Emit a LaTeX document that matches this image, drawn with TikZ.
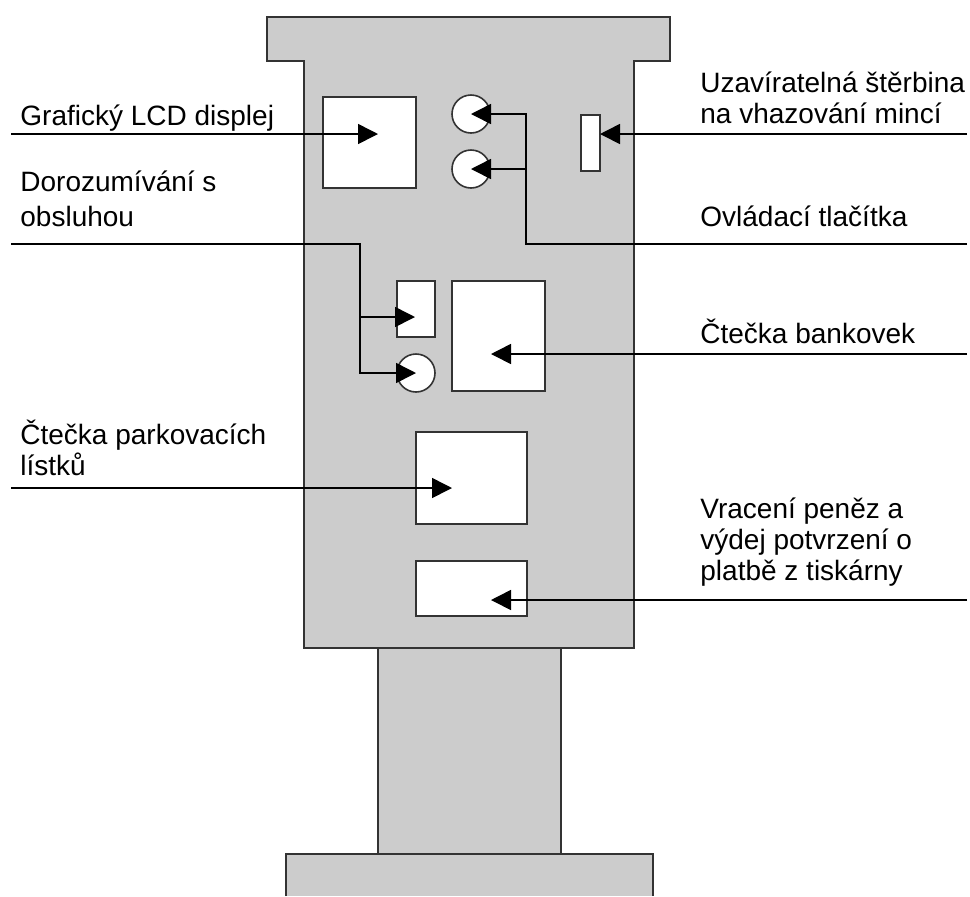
\documentclass[tikz,border=0pt]{standalone}
\usepackage{fontspec}
\setmainfont{Liberation Sans}
\usetikzlibrary{arrows.meta}

\begin{document}
\begin{tikzpicture}[
  x=0.5pt, y=-0.5pt,
  housing/.style={draw=black!80, fill=black!20, line width=0.8pt},
  part/.style={draw=black!80, fill=white, line width=0.8pt, inner sep=0pt},
  knob/.style={part, circle, minimum size=19pt},
  flow/.style={-{Triangle[length=10pt, width=10pt]}, line width=0.8pt},
  lab/.style={anchor=base west, align=left, inner sep=0pt,
              font=\fontsize{14}{15.5}\selectfont}
]
\useasboundingbox (0,0) rectangle (970,896);

\fill[black!20] (286,854) rectangle (653,896);
\draw[housing] (286,896) |- (653,854) -- (653,896);
\draw[housing] (378,648) rectangle (561,854);
\draw[housing] (267,17) -- (670,17) -- (670,61) -- (634,61) -- (634,648)
  -- (304,648) -- (304,61) -- (267,61) -- cycle;

\node[part, minimum width=46.5pt, minimum height=45.5pt] (lcd) at (369.5,142.5) {};
\node[knob] (btnup) at (471,114) {};
\node[knob] (btndown) at (471,169) {};
\node[part, minimum width=9.5pt, minimum height=28pt] (slot) at (590.5,143) {};
\node[part, minimum width=19pt, minimum height=28pt] (speaker) at (416,309) {};
\node[knob] (callbtn) at (416,373) {};
\node[part, minimum width=46.5pt, minimum height=55pt] (notes) at (498.5,336) {};
\node[part, minimum width=55.5pt, minimum height=46pt] (ticket) at (471.5,478) {};
\node[part, minimum width=55.5pt, minimum height=27.5pt] (printer) at (471.5,588.5) {};

\coordinate (lcdin) at (11,134);
\coordinate (lcdtip) at (378,134);
\coordinate (dorin) at (11,244);
\coordinate (dorfork) at (360,317);
\coordinate (speakertip) at (415,317);
\coordinate (ticketin) at (11,488);
\coordinate (tickettip) at (452,488);
\coordinate (slotin) at (967,134);
\coordinate (slottip) at (600,134);
\coordinate (btnin) at (967,244);
\coordinate (btnfork) at (526,169);
\coordinate (notesin) at (967,354);
\coordinate (notestip) at (491,354);
\coordinate (printin) at (967,600);
\coordinate (printtip) at (491,600);

\draw[flow] (lcdin) -- (lcdtip);
\draw[flow] (dorin) -| (dorfork) |- (callbtn.center);
\draw[flow] (dorfork) -- (speakertip);
\draw[flow] (ticketin) -- (tickettip);
\draw[flow] (slotin) -- (slottip);
\draw[flow] (btnin) -| (btnfork) |- (btnup.center);
\draw[flow] (btnfork) -- (btndown.center);
\draw[flow] (notesin) -- (notestip);
\draw[flow] (printin) -- (printtip);

\node[lab] (lcdlab) at (20,125) {Grafický LCD displej};
\node[lab, font=\fontsize{14}{17.5}\selectfont] (dorlab) at (20,226) {Dorozumívání s\\obsluhou};
\node[lab] (ticketlab) at (20,475) {Čtečka parkovacích\\lístků};
\node[lab] (slotlab) at (700,123) {Uzavíratelná štěrbina\\na vhazování mincí};
\node[lab] (btnlab) at (700,226) {Ovládací tlačítka};
\node[lab] (noteslab) at (700,343) {Čtečka bankovek};
\node[lab] (printlab) at (700,580) {Vracení peněz a\\výdej potvrzení o\\platbě z tiskárny};
\end{tikzpicture}
\end{document}
